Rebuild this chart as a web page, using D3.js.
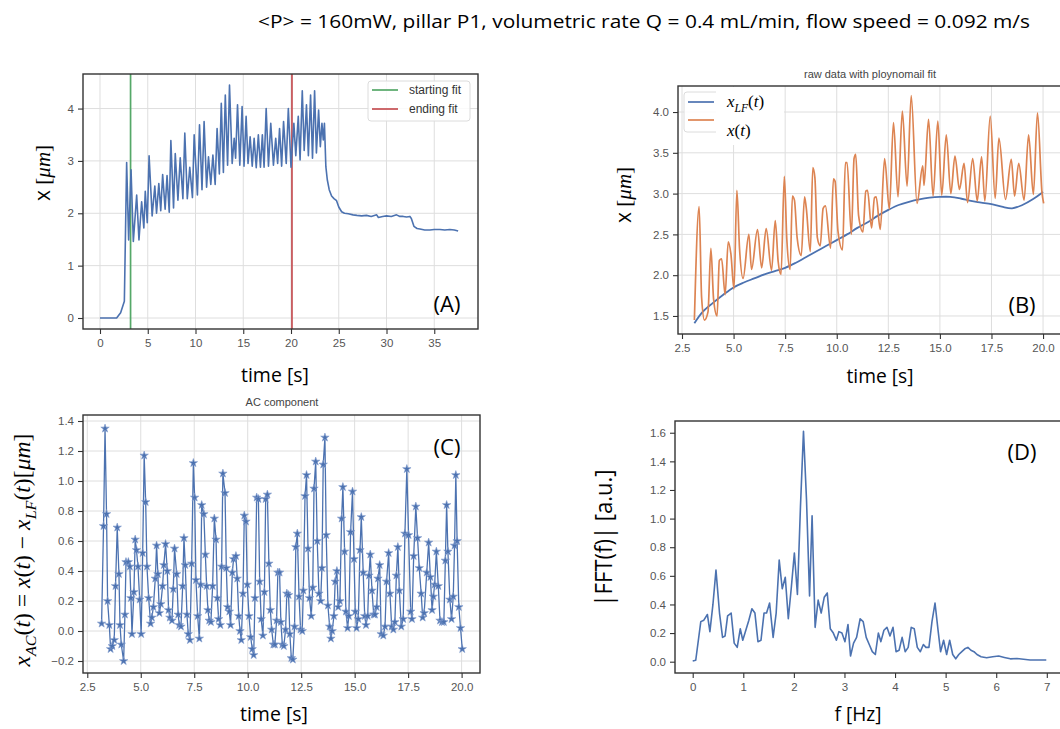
<!DOCTYPE html>
<html>
<head>
<meta charset="utf-8">
<script src="https://cdn.jsdelivr.net/npm/d3@7"></script>
<style>
body { margin: 0; background: #fff; }
svg { display: block; }
</style>
</head>
<body>
<div id="chart"></div>
<script>
const WIDTH = 1060;
const HEIGHT = 729;

const BLUE = '#4c72b0';
const ORANGE = '#dd8452';
const GREEN = '#55a868';
const RED = '#c44e52';
const GRID = '#dedede';
const SPINE = '#333';

const SANS = "'Open Sans', 'Noto Sans', sans-serif";
const TICKFONT = "'Liberation Sans', Arial, sans-serif";
const SERIF = "'Liberation Serif', 'DejaVu Serif', serif";

// ---- data ----
const titleText = '<P> = 160mW, pillar P1, volumetric rate Q = 0.4 mL/min, flow speed = 0.092 m/s';

// (A) full raw trace x(t), [time s, x um]
const rawSeries = [
  [0, 0], [0.6, 0], [1.2, 0], [1.74, 0], [2.16, 0.1], [2.55, 0.32], [2.79, 2.97], [3.0, 1.49],
  [3.25, 2.83], [3.49, 1.46], [3.84, 2.35], [4.08, 1.49], [4.36, 2.22], [4.59, 1.72], [4.74, 2.42],
  [4.95, 1.82], [5.14, 3.1], [5.46, 1.95], [5.74, 2.52], [5.92, 2.0], [6.16, 2.57], [6.36, 2.05],
  [6.56, 2.74], [6.82, 2.08], [7.02, 2.72], [7.25, 2.02], [7.42, 3.39], [7.7, 2.1], [7.88, 3.14],
  [8.16, 2.25], [8.4, 3.06], [8.68, 2.28], [8.88, 3.53], [9.14, 2.28], [9.4, 2.88], [9.68, 2.3],
  [9.86, 3.5], [10.2, 2.35], [10.42, 3.69], [10.68, 2.45], [10.9, 3.75], [11.16, 2.5], [11.36, 3.08],
  [11.6, 2.55], [11.82, 3.11], [12.06, 2.55], [12.26, 3.62], [12.5, 2.75], [12.7, 4.1], [12.92, 2.78],
  [13.12, 4.26], [13.36, 2.92], [13.56, 4.45], [13.84, 2.95], [14.05, 3.43], [14.2, 3.05], [14.4, 4.07],
  [14.64, 2.92], [14.88, 4.04], [15.08, 2.9], [15.3, 3.85], [15.5, 2.95], [15.72, 3.46], [15.94, 2.9],
  [16.14, 3.43], [16.36, 2.87], [16.58, 3.5], [16.8, 2.88], [17.0, 3.5], [17.18, 2.88], [17.4, 4.0],
  [17.64, 2.9], [17.88, 3.72], [18.16, 2.92], [18.4, 3.43], [18.6, 2.95], [18.8, 3.62], [19.02, 2.9],
  [19.22, 3.75], [19.5, 2.95], [19.72, 4.0], [20.0, 2.88], [20.3, 3.72], [20.5, 3.1], [20.76, 3.85],
  [20.95, 3.02], [21.18, 4.34], [21.38, 3.2], [21.62, 4.07], [21.82, 3.1], [22.05, 4.26], [22.25, 3.05],
  [22.47, 4.34], [22.66, 3.15], [22.89, 3.97], [23.07, 3.27], [23.24, 3.72], [23.38, 3.4], [23.5, 3.72],
  [23.65, 2.89], [23.8, 2.64], [24.0, 2.45], [24.25, 2.33], [24.5, 2.28], [24.77, 2.24], [25.0, 2.12],
  [25.3, 2.03], [25.6, 2.0], [26.0, 1.99], [26.5, 1.97], [26.9, 1.96], [27.4, 1.95], [27.9, 1.96],
  [28.4, 1.94], [28.97, 1.97], [29.15, 1.92], [29.6, 1.94], [30.0, 1.95], [30.5, 1.94], [31.05, 1.97],
  [31.4, 1.94], [31.75, 1.94], [32.1, 1.93], [32.45, 1.94], [32.6, 1.9], [32.87, 1.75], [33.2, 1.71],
  [33.5, 1.7], [34.0, 1.68], [34.54, 1.68], [35.0, 1.69], [35.6, 1.69], [36.1, 1.68], [36.63, 1.69],
  [37.1, 1.68], [37.5, 1.66]
];
const fitStart = 3.2;
const fitEnd = 20.1;

// (B) polynomial fit x_LF(t)
const lfSeries = [
  [3.1, 1.41], [3.5, 1.55], [4, 1.66], [4.5, 1.76], [5, 1.85], [5.5, 1.91], [6, 1.96], [6.5, 2.01],
  [7, 2.05], [7.5, 2.09], [8, 2.15], [8.5, 2.22], [9, 2.29], [9.5, 2.36], [10, 2.43], [10.5, 2.5],
  [11, 2.58], [11.5, 2.65], [12, 2.73], [12.5, 2.8], [13, 2.86], [13.5, 2.9], [14, 2.93], [14.5, 2.95],
  [15, 2.96], [15.5, 2.96], [16, 2.94], [16.5, 2.91], [17, 2.89], [17.5, 2.87], [18, 2.84], [18.5, 2.82],
  [19, 2.86], [19.5, 2.93], [20, 3.02]
];

// (B) raw data x(t) in the fit window
const fitRawSeries = [
  [3.1, 1.45], [3.33, 2.84], [3.45, 1.73], [3.59, 1.45], [3.76, 1.55], [3.9, 2.33], [4.03, 1.71],
  [4.2, 1.5], [4.31, 2.18], [4.42, 2.2], [4.59, 1.76], [4.74, 2.41], [4.87, 2.26], [5.02, 1.83],
  [5.16, 3.04], [5.29, 2.32], [5.46, 1.96], [5.74, 2.5], [5.87, 2.07], [6.16, 2.56], [6.36, 2.09],
  [6.58, 2.57], [6.84, 2.06], [7.02, 2.67], [7.16, 2.17], [7.3, 2.01], [7.46, 3.21], [7.58, 2.44],
  [7.74, 2.07], [7.85, 2.97], [7.95, 2.92], [8.08, 2.46], [8.28, 2.24], [8.44, 2.96], [8.52, 2.83],
  [8.72, 2.29], [8.84, 3.32], [8.94, 3.2], [9.06, 2.46], [9.2, 2.36], [9.34, 2.82], [9.45, 2.85],
  [9.7, 2.33], [9.84, 3.18], [9.92, 3.15], [10.06, 2.54], [10.28, 2.31], [10.42, 3.38], [10.5, 3.38],
  [10.71, 2.5], [10.84, 3.43], [10.92, 3.48], [11.06, 2.73], [11.27, 2.53], [11.41, 3.03], [11.49, 3.04],
  [11.69, 2.58], [11.83, 2.95], [11.91, 2.96], [12.11, 2.56], [12.32, 3.43], [12.55, 2.81], [12.75, 3.87],
  [12.97, 2.96], [13.18, 4.01], [13.41, 3.09], [13.61, 4.2], [13.89, 2.88], [14.17, 3.34], [14.23, 3.1],
  [14.45, 3.91], [14.67, 2.97], [14.9, 3.89], [15.09, 2.98], [15.31, 3.72], [15.53, 3.0], [15.73, 3.46],
  [15.95, 3.05], [16.17, 3.37], [16.34, 2.89], [16.59, 3.43], [16.81, 2.91], [17.02, 3.45], [17.18, 2.91],
  [17.44, 3.95], [17.68, 2.94], [17.86, 3.68], [18.18, 2.93], [18.46, 3.42], [18.62, 2.97], [18.82, 3.37],
  [19.08, 2.92], [19.3, 3.72], [19.53, 2.99], [19.73, 3.99], [19.95, 3.01], [20.03, 2.88]
];

// (C) AC component x_AC(t) = x(t) - x_LF(t)
const acSeries = [
  [3.17, 0.05], [3.26, 0.70], [3.33, 1.35], [3.40, 0.78], [3.45, 0.20], [3.53, 0.04], [3.59, -0.12],
  [3.67, -0.10], [3.76, -0.06], [3.82, 0.30], [3.90, 0.69], [3.98, 0.38], [4.03, 0.04], [4.09, -0.09],
  [4.20, -0.20], [4.26, 0.11], [4.31, 0.46], [4.42, 0.46], [4.49, 0.43], [4.54, 0.22], [4.59, -0.02],
  [4.68, 0.26], [4.74, 0.61], [4.80, 0.54], [4.87, 0.43], [4.95, 0.21], [5.02, -0.02], [5.09, 0.52],
  [5.16, 1.17], [5.23, 0.86], [5.29, 0.43], [5.37, 0.22], [5.46, 0.05], [5.52, 0.09], [5.59, 0.16],
  [5.68, 0.35], [5.74, 0.57], [5.80, 0.38], [5.87, 0.12], [5.94, 0.18], [6.02, 0.30], [6.08, 0.44],
  [6.16, 0.58], [6.24, 0.40], [6.30, 0.14], [6.36, 0.09], [6.46, 0.07], [6.52, 0.28], [6.58, 0.55],
  [6.68, 0.38], [6.75, 0.11], [6.80, 0.04], [6.88, 0.03], [6.96, 0.30], [7.02, 0.62], [7.08, 0.44],
  [7.16, 0.11], [7.22, -0.02], [7.30, -0.06], [7.38, 0.45], [7.46, 1.12], [7.52, 0.89], [7.58, 0.34],
  [7.66, 0.10], [7.74, -0.05], [7.80, 0.31], [7.85, 0.84], [7.95, 0.78], [8.02, 0.51], [8.08, 0.30],
  [8.14, 0.14], [8.20, 0.07], [8.28, 0.06], [8.36, 0.30], [8.44, 0.75], [8.52, 0.61], [8.58, 0.22],
  [8.64, 0.08], [8.72, 0.04], [8.78, 0.43], [8.84, 1.05], [8.94, 0.92], [9.00, 0.42], [9.06, 0.16],
  [9.14, 0.13], [9.20, 0.04], [9.28, 0.39], [9.34, 0.48], [9.45, 0.50], [9.51, 0.35], [9.58, 0.10],
  [9.64, 0.00], [9.70, -0.06], [9.78, 0.25], [9.84, 0.77], [9.92, 0.73], [9.98, 0.31], [10.06, 0.10],
  [10.14, -0.04], [10.21, -0.12], [10.28, -0.16], [10.34, 0.22], [10.42, 0.89], [10.50, 0.88],
  [10.56, 0.33], [10.63, 0.08], [10.71, -0.03], [10.78, 0.26], [10.84, 0.88], [10.92, 0.91],
  [10.99, 0.45], [11.06, 0.14], [11.12, 0.01], [11.20, -0.09], [11.27, -0.09], [11.35, 0.07],
  [11.41, 0.39], [11.49, 0.39], [11.55, 0.06], [11.62, -0.09], [11.69, -0.10], [11.77, 0.01],
  [11.83, 0.25], [11.91, 0.24], [11.97, -0.02], [12.04, -0.18], [12.11, -0.19], [12.19, 0.03],
  [12.25, 0.56], [12.32, 0.65], [12.40, 0.23], [12.47, 0.01], [12.55, 0.00], [12.60, 0.27],
  [12.68, 0.90], [12.75, 1.04], [12.82, 0.55], [12.89, 0.22], [12.97, 0.10], [13.04, 0.29],
  [13.10, 0.95], [13.18, 1.13], [13.25, 0.60], [13.33, 0.25], [13.41, 0.20], [13.47, 0.42],
  [13.53, 1.11], [13.61, 1.29], [13.67, 0.64], [13.75, 0.17], [13.83, 0.03], [13.89, -0.05],
  [13.95, 0.00], [14.03, 0.10], [14.09, 0.33], [14.17, 0.40], [14.23, 0.16], [14.31, 0.20],
  [14.39, 0.75], [14.45, 0.96], [14.53, 0.53], [14.59, 0.13], [14.67, 0.02], [14.73, 0.10],
  [14.81, 0.66], [14.90, 0.93], [14.97, 0.48], [15.03, 0.13], [15.09, 0.02], [15.17, 0.08],
  [15.25, 0.54], [15.31, 0.76], [15.40, 0.39], [15.47, 0.10], [15.53, 0.04], [15.61, 0.10],
  [15.67, 0.37], [15.73, 0.51], [15.81, 0.27], [15.89, 0.11], [15.95, 0.11], [16.03, 0.16],
  [16.09, 0.35], [16.17, 0.44], [16.24, -0.02], [16.34, -0.03], [16.42, 0.03], [16.49, 0.33],
  [16.59, 0.52], [16.65, 0.25], [16.73, 0.03], [16.81, 0.01], [16.88, 0.06], [16.95, 0.37],
  [17.02, 0.56], [17.09, 0.27], [17.18, 0.03], [17.27, 0.08], [17.35, 0.65], [17.44, 1.08],
  [17.52, 0.64], [17.62, 0.13], [17.68, 0.08], [17.76, 0.50], [17.86, 0.83], [17.94, 0.62],
  [18.02, 0.42], [18.11, 0.25], [18.18, 0.09], [18.25, 0.12], [18.37, 0.39], [18.46, 0.59],
  [18.54, 0.36], [18.62, 0.14], [18.68, 0.23], [18.74, 0.31], [18.82, 0.53], [18.91, 0.30],
  [18.99, 0.07], [19.08, 0.06], [19.17, 0.06], [19.24, 0.47], [19.30, 0.84], [19.36, 0.53],
  [19.45, 0.21], [19.53, 0.08], [19.61, 0.23], [19.67, 0.57], [19.73, 1.04], [19.79, 0.60],
  [19.87, 0.16], [19.95, 0.02], [20.03, -0.12]
];

// (D) |FFT(f)|, [f Hz, amplitude]
const fftSeries = [
  [0, 0.005], [0.06, 0.01], [0.16, 0.28], [0.22, 0.29], [0.29, 0.33], [0.34, 0.21], [0.40, 0.40],
  [0.46, 0.64], [0.53, 0.34], [0.59, 0.17], [0.64, 0.18], [0.69, 0.32], [0.76, 0.34], [0.82, 0.13],
  [0.88, 0.10], [0.94, 0.23], [0.99, 0.15], [1.05, 0.22], [1.11, 0.29], [1.17, 0.37], [1.23, 0.34],
  [1.29, 0.14], [1.35, 0.15], [1.41, 0.34], [1.46, 0.34], [1.52, 0.41], [1.59, 0.17], [1.65, 0.34],
  [1.71, 0.71], [1.77, 0.51], [1.83, 0.59], [1.89, 0.30], [1.95, 0.52], [2.01, 0.76], [2.07, 0.47],
  [2.13, 1.08], [2.19, 1.61], [2.25, 1.13], [2.31, 0.46], [2.36, 1.02], [2.42, 0.24], [2.48, 0.43],
  [2.54, 0.34], [2.60, 0.45], [2.66, 0.48], [2.72, 0.23], [2.78, 0.20], [2.84, 0.15], [2.89, 0.21],
  [2.95, 0.20], [3.01, 0.14], [3.07, 0.26], [3.12, 0.04], [3.18, 0.13], [3.24, 0.17], [3.31, 0.30],
  [3.37, 0.28], [3.43, 0.17], [3.49, 0.12], [3.55, 0.07], [3.61, 0.05], [3.67, 0.20], [3.72, 0.14],
  [3.78, 0.22], [3.84, 0.24], [3.90, 0.18], [3.96, 0.24], [4.02, 0.07], [4.08, 0.08], [4.14, 0.17],
  [4.20, 0.07], [4.26, 0.10], [4.32, 0.24], [4.38, 0.23], [4.44, 0.10], [4.50, 0.07], [4.56, 0.12],
  [4.61, 0.10], [4.67, 0.10], [4.73, 0.28], [4.79, 0.41], [4.85, 0.22], [4.90, 0.07], [4.96, 0.15],
  [5.02, 0.05], [5.08, 0.15], [5.14, 0.05], [5.20, 0.02], [5.26, 0.05], [5.32, 0.07], [5.38, 0.09],
  [5.44, 0.10], [5.50, 0.08], [5.56, 0.07], [5.62, 0.05], [5.70, 0.035], [5.81, 0.028], [5.93, 0.035],
  [6.05, 0.04], [6.16, 0.03], [6.28, 0.02], [6.41, 0.022], [6.54, 0.017], [6.67, 0.012], [6.83, 0.012],
  [6.99, 0.012]
];

// tick values
const aXTicks = [0, 5, 10, 15, 20, 25, 30, 35];
const aYTicks = [0, 1, 2, 3, 4];
const bXTicks = [2.5, 5, 7.5, 10, 12.5, 15, 17.5, 20];
const bYTicks = [1.5, 2, 2.5, 3, 3.5, 4];
const cXTicks = [2.5, 5, 7.5, 10, 12.5, 15, 17.5, 20];
const cYTicks = [-0.2, 0, 0.2, 0.4, 0.6, 0.8, 1.0, 1.2, 1.4];
const dXTicks = [0, 1, 2, 3, 4, 5, 6, 7];
const dYTicks = [0, 0.2, 0.4, 0.6, 0.8, 1.0, 1.2, 1.4, 1.6];

// ---- drawing ----
var svg = d3.select('#chart').append('svg')
  .attr('width', WIDTH)
  .attr('height', HEIGHT);

svg.append('rect').attr('width', WIDTH).attr('height', HEIGHT).attr('fill', '#fff');

var translate = function (x, y) {
  return 'translate(' + x + ',' + y + ')';
};

var addPanel = function (name, box, xDomain, yDomain, xTicks, yTicks, xFmt, yFmt, grid) {
  var x = d3.scaleLinear().domain(xDomain).range([box.left, box.right]);
  var y = d3.scaleLinear().domain(yDomain).range([box.bottom, box.top]);
  var g = svg.append('g').attr('class', 'panel-' + name);

  if (grid) {
    g.append('g').selectAll('line').data(xTicks).join('line')
      .attr('x1', d => x(d)).attr('x2', d => x(d))
      .attr('y1', box.top).attr('y2', box.bottom)
      .attr('stroke', GRID).attr('stroke-width', 1);
    g.append('g').selectAll('line').data(yTicks).join('line')
      .attr('x1', box.left).attr('x2', box.right)
      .attr('y1', d => y(d)).attr('y2', d => y(d))
      .attr('stroke', GRID).attr('stroke-width', 1);
  }

  svg.append('clipPath').attr('id', 'clip-' + name)
    .append('rect')
    .attr('x', box.left).attr('y', box.top)
    .attr('width', box.right - box.left).attr('height', box.bottom - box.top);

  var plot = g.append('g').attr('clip-path', 'url(#clip-' + name + ')');

  g.append('rect')
    .attr('x', box.left).attr('y', box.top)
    .attr('width', box.right - box.left).attr('height', box.bottom - box.top)
    .attr('fill', 'none').attr('stroke', SPINE).attr('stroke-width', 1.4);

  var styleAxis = function (a) {
    a.select('.domain').remove();
    a.selectAll('.tick line').attr('stroke', SPINE).attr('stroke-width', 1.1);
    a.selectAll('.tick text')
      .attr('fill', '#555')
      .style('font-family', TICKFONT)
      .style('font-size', '11.5px');
  };

  g.append('g')
    .attr('transform', translate(0, box.bottom))
    .call(d3.axisBottom(x).tickValues(xTicks).tickFormat(xFmt).tickSize(5).tickPadding(5))
    .call(styleAxis);

  g.append('g')
    .attr('transform', translate(box.left, 0))
    .call(d3.axisLeft(y).tickValues(yTicks).tickFormat(yFmt).tickSize(5).tickPadding(4))
    .call(styleAxis);

  return { x: x, y: y, g: g, plot: plot };
};

var drawLine = function (p, data, color, width, curve) {
  var line = d3.line()
    .x(d => p.x(d[0]))
    .y(d => p.y(d[1]))
    .curve(curve || d3.curveLinear);
  p.plot.append('path')
    .attr('d', line(data))
    .attr('fill', 'none')
    .attr('stroke', color)
    .attr('stroke-width', width)
    .attr('stroke-linejoin', 'round');
};

var addText = function (x, y, str, size, opts) {
  opts = opts || {};
  var t = svg.append('text')
    .attr('x', x).attr('y', y)
    .attr('text-anchor', opts.anchor || 'middle')
    .attr('fill', opts.fill || '#000')
    .style('font-family', opts.font || SANS)
    .style('font-size', size + 'px')
    .text(str);
  if (opts.rotate) t.attr('transform', 'rotate(-90,' + x + ',' + y + ')');
  if (opts.length) t.attr('textLength', opts.length).attr('lengthAdjust', 'spacingAndGlyphs');
  return t;
};

// parts: [text, kind]; kind: 's' sans, 'r' upright serif, 'i' italic serif, 'sub' italic subscript
var addMath = function (x, y, parts, size, rotate, anchor) {
  var t = svg.append('text')
    .attr('x', x).attr('y', y)
    .attr('text-anchor', anchor || 'middle')
    .style('font-size', size + 'px');
  if (rotate) t.attr('transform', 'rotate(-90,' + x + ',' + y + ')');
  var shift = 0;
  parts.forEach(function (p) {
    var ts = t.append('tspan').text(p[0]);
    var target = p[1] === 'sub' ? size * 0.28 : 0;
    if (target !== shift) { ts.attr('dy', target - shift); shift = target; }
    ts.style('font-family', p[1] === 's' ? SANS : SERIF)
      .style('font-style', (p[1] === 'i' || p[1] === 'sub') ? 'italic' : 'normal');
    if (p[1] === 'sub') ts.style('font-size', (size * 0.68) + 'px');
  });
  return t;
};

var f1 = d3.format('.1f');
var f0 = d3.format('d');

// title
addText(258, 28, titleText, 19, { anchor: 'start', length: 772 });

// ---------- (A) ----------
var pA = addPanel('a', { left: 83, top: 74, right: 478, bottom: 329 },
  [-1.78, 39.58], [-0.21, 4.66], aXTicks, aYTicks, f0, f0, true);
pA.plot.append('line')
  .attr('x1', pA.x(fitStart)).attr('x2', pA.x(fitStart))
  .attr('y1', 74).attr('y2', 329)
  .attr('stroke', GREEN).attr('stroke-width', 1.7);
pA.plot.append('line')
  .attr('x1', pA.x(fitEnd)).attr('x2', pA.x(fitEnd))
  .attr('y1', 74).attr('y2', 329)
  .attr('stroke', RED).attr('stroke-width', 1.7);
drawLine(pA, rawSeries, BLUE, 1.6);

// legend A
var legA = svg.append('g').attr('transform', translate(368, 81));
legA.append('rect').attr('width', 102).attr('height', 40).attr('rx', 3)
  .attr('fill', '#fff').attr('fill-opacity', 0.85).attr('stroke', '#dcdcdc');
[['starting fit', GREEN], ['ending fit', RED]].forEach(function (d, i) {
  legA.append('line').attr('x1', 4).attr('x2', 30)
    .attr('y1', 9 + i * 19).attr('y2', 9 + i * 19)
    .attr('stroke', d[1]).attr('stroke-width', 1.7);
  legA.append('text').attr('x', 41).attr('y', 13 + i * 19)
    .attr('fill', '#333').style('font-family', TICKFONT).style('font-size', '12px')
    .text(d[0]);
});

addMath(50, 173, [['x ', 's'], ['[', 'r'], ['μm', 'i'], [']', 'r']], 21, true);
addText(275, 382, 'time [s]', 20, { length: 68 });
addText(447, 312, '(A)', 22);

// ---------- (B) ----------
var pB = addPanel('b', { left: 678, top: 86, right: 1061, bottom: 334 },
  [2.306, 20.87], [1.279, 4.319], bXTicks, bYTicks, f1, f1, true);
drawLine(pB, lfSeries, BLUE, 1.8, d3.curveCatmullRom);
drawLine(pB, fitRawSeries, ORANGE, 1.7, d3.curveMonotoneX);

addText(870, 78, 'raw data with ploynomail fit', 11, { fill: '#444', font: TICKFONT });

// legend B (partly covered by a pasted white box, as in the figure)
svg.append('rect').attr('x', 684).attr('y', 92).attr('width', 99).attr('height', 40).attr('rx', 3)
  .attr('fill', '#fff').attr('fill-opacity', 0.85).attr('stroke', '#dcdcdc');
svg.append('rect').attr('x', 716).attr('y', 87).attr('width', 68).attr('height', 58).attr('fill', '#fff');
svg.append('line').attr('x1', 688).attr('x2', 714).attr('y1', 102).attr('y2', 102)
  .attr('stroke', BLUE).attr('stroke-width', 1.7);
svg.append('line').attr('x1', 688).attr('x2', 714).attr('y1', 120).attr('y2', 120)
  .attr('stroke', ORANGE).attr('stroke-width', 1.7);
addMath(727, 107, [['x', 'i'], ['LF', 'sub'], ['(', 'r'], ['t', 'i'], [')', 'r']], 17, false, 'start');
addMath(727, 136, [['x', 'i'], ['(', 'r'], ['t', 'i'], [')', 'r']], 17, false, 'start');

addMath(631, 195, [['x ', 's'], ['[', 'r'], ['μm', 'i'], [']', 'r']], 21, true);
addText(880, 383, 'time [s]', 20, { length: 67 });
addText(1022, 313, '(B)', 22);

// ---------- (C) ----------
var pC = addPanel('c', { left: 83, top: 415, right: 480, bottom: 673 },
  [2.30, 20.86], [-0.28, 1.44], cXTicks, cYTicks, f1, f1, true);
drawLine(pC, acSeries, BLUE, 1.3);
pC.plot.append('g').selectAll('path').data(acSeries).join('path')
  .attr('transform', d => translate(pC.x(d[0]), pC.y(d[1])))
  .attr('d', d3.symbol().type(d3.symbolStar).size(22))
  .attr('fill', BLUE)
  .attr('stroke', '#7f9bcc')
  .attr('stroke-width', 0.6);

addText(282, 406, 'AC component', 11, { fill: '#444', font: TICKFONT });
addMath(30, 550, [
  ['x', 'i'], ['AC', 'sub'], ['(', 'r'], ['t', 'i'], [')', 'r'], [' = ', 'r'],
  ['x', 'i'], ['(', 'r'], ['t', 'i'], [')', 'r'], [' − ', 'r'],
  ['x', 'i'], ['LF', 'sub'], ['(', 'r'], ['t', 'i'], [')', 'r'],
  ['[', 'r'], ['μm', 'i'], [']', 'r']
], 23, true)
  .attr('textLength', 233).attr('lengthAdjust', 'spacingAndGlyphs');
addText(274, 721, 'time [s]', 20, { length: 68 });
addText(447, 455, '(C)', 22);

// ---------- (D) ----------
var pD = addPanel('d', { left: 675, top: 421, right: 1064, bottom: 673 },
  [-0.35, 7.34], [-0.079, 1.682], dXTicks, dYTicks, f0, f1, false);
drawLine(pD, fftSeries, BLUE, 1.6);

addText(612, 538, '|FFT(f)| [a.u.]', 23, { rotate: true, length: 137 });
addText(858, 721, 'f [Hz]', 20, { length: 47 });
addText(1022, 460, '(D)', 22);
</script>
</body>
</html>
